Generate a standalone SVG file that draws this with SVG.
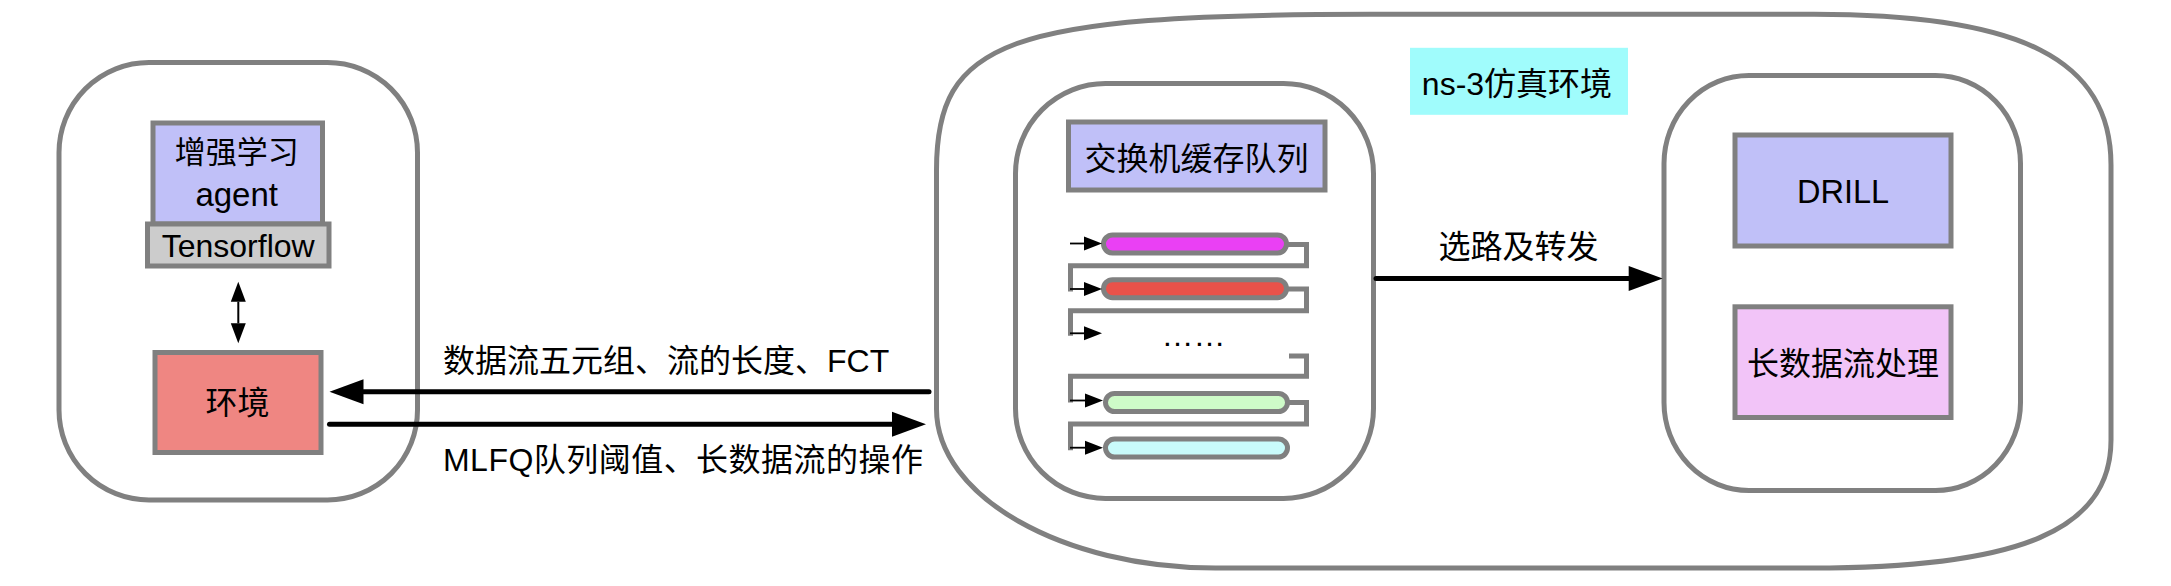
<svg xmlns="http://www.w3.org/2000/svg" width="2171" height="586" viewBox="0 0 2171 586">
  <style>
    .cont { fill: #ffffff; stroke: #808080; stroke-width: 5; }
    .box { stroke: #808080; stroke-width: 5; }
    .lav { fill: #c0c0f8; }
    .t { font-family: "Liberation Sans", "Noto Sans CJK SC", sans-serif; font-size: 32px; fill: #000000; }
    .mid { text-anchor: middle; }
    .main { stroke: #000000; stroke-width: 5; fill: none; stroke-linecap: round; }
    .thin { stroke: #000000; stroke-width: 1.8; fill: none; }
    .pipe { stroke: #808080; stroke-width: 5; fill: none; stroke-linejoin: miter; }
    .cap { stroke: #808080; stroke-width: 5; }
  </style>
  <defs>
    <marker id="bigHead" markerUnits="userSpaceOnUse" markerWidth="34" markerHeight="25" refX="0" refY="12.5" orient="auto" overflow="visible">
      <path d="M0,0 L34,12.5 L0,25 Z" fill="#000000"/>
    </marker>
    <marker id="midHead" markerUnits="userSpaceOnUse" markerWidth="20" markerHeight="15" refX="0" refY="7.5" orient="auto-start-reverse" overflow="visible">
      <path d="M0,0 L20,7.5 L0,15 Z" fill="#000000"/>
    </marker>
    <marker id="smallHead" markerUnits="userSpaceOnUse" markerWidth="18" markerHeight="14" refX="0" refY="7" orient="auto" overflow="visible">
      <path d="M0,0 L18,7 L0,14 Z" fill="#000000"/>
    </marker>
  </defs>
  <rect width="2171" height="586" fill="#ffffff"/>

  <!-- Left container: RL side -->
  <g id="rl-container">
    <rect class="cont" x="59" y="62.5" width="358.5" height="437.5" rx="90" ry="90"/>
  </g>
  <g id="agent">
    <rect class="box lav" x="153" y="123" width="169.5" height="101"/>
    <text class="t mid" x="236.7" y="163" style="font-size:31px">增强学习</text>
    <text class="t mid" x="236.7" y="206" style="font-size:33px">agent</text>
  </g>
  <g id="tensorflow">
    <rect class="box" fill="#cccccc" x="147.5" y="224" width="181.5" height="42"/>
    <text class="t mid" x="238.2" y="256.7">Tensorflow</text>
  </g>
  <g id="env">
    <rect class="box" fill="#ef8682" x="155" y="352.5" width="166" height="100"/>
    <text class="t mid" x="237.5" y="414">环境</text>
  </g>

  <!-- Right container: ns-3 -->
  <g id="ns3-container">
    <path class="cont" d="M1370,14.3 H1814 C2022,14.3 2111,59.6 2111,165 V440 C2111,529.6 2021,568 1811,568 H1215.5 C1062.5,568 936.5,496.4 936.5,409 V170 C936.5,41 1005,14.3 1370,14.3 Z"/>
  </g>
  <g id="ns3-label">
    <rect x="1410" y="47.8" width="218" height="67" fill="#a0fcfc"/>
    <text class="t mid" x="1517" y="95">ns-3仿真环境</text>
  </g>

  <g id="switch">
    <rect class="cont" x="1015.5" y="83.5" width="358" height="415" rx="90" ry="90"/>
    <rect class="box lav" x="1068.5" y="122" width="256.5" height="68"/>
    <text class="t mid" x="1196.5" y="170">交换机缓存队列</text>
    <g id="queues">
      <path class="pipe" d="M1286,244.5 H1306.5 V265.8 H1070.5 V291.5"/>
      <path class="pipe" d="M1286,289 H1306.5 V310.7 H1070.5 V335.8"/>
      <path class="pipe" d="M1289,356 H1306.5 V376.3 H1070.5 V402.5"/>
      <path class="pipe" d="M1288,402.5 H1306.5 V424 H1070.5 V450.2"/>
      <rect class="cap" fill="#ea40f4" x="1103.5" y="235" width="183" height="18" rx="9" ry="9"/>
      <rect class="cap" fill="#e9524a" x="1103.5" y="279.7" width="183" height="18" rx="9" ry="9"/>
      <rect class="cap" fill="#cefbc8" x="1105.5" y="393.5" width="182" height="18" rx="9" ry="9"/>
      <rect class="cap" fill="#c9fbfb" x="1105.5" y="439" width="182" height="18" rx="9" ry="9"/>
      <line class="thin" x1="1070" y1="243.5" x2="1084" y2="243.5" marker-end="url(#smallHead)"/>
      <line class="thin" x1="1070" y1="289" x2="1084" y2="289" marker-end="url(#smallHead)"/>
      <line class="thin" x1="1070" y1="333.3" x2="1084" y2="333.3" marker-end="url(#smallHead)"/>
      <line class="thin" x1="1070" y1="400.5" x2="1085" y2="400.5" marker-end="url(#smallHead)"/>
      <line class="thin" x1="1070" y1="447.7" x2="1085" y2="447.7" marker-end="url(#smallHead)"/>
      <text x="1161.4" y="346" style="font-family:'Liberation Sans', sans-serif; font-size:32px" fill="#000000">……</text>
    </g>
  </g>

  <g id="routing">
    <rect class="cont" x="1664" y="75.5" width="356.5" height="415" rx="85" ry="88"/>
  </g>
  <g id="drill">
    <rect class="box lav" x="1735" y="135" width="216" height="111"/>
    <text class="t mid" x="1843" y="203.3" style="font-size:32.5px">DRILL</text>
  </g>
  <g id="longflow">
    <rect class="box" fill="#f2c4f8" x="1735" y="306.8" width="216" height="110.7"/>
    <text class="t mid" x="1843" y="375">长数据流处理</text>
  </g>

  <!-- Connectors -->
  <g id="connectors">
    <line x1="238.3" y1="301.7" x2="238.3" y2="323.3" stroke="#000000" stroke-width="2" marker-start="url(#midHead)" marker-end="url(#midHead)"/>
    <line class="main" x1="929" y1="391.7" x2="363.5" y2="391.7" marker-end="url(#bigHead)"/>
    <line class="main" x1="329.5" y1="424.3" x2="892" y2="424.3" marker-end="url(#bigHead)"/>
    <line class="main" x1="1376" y1="278.4" x2="1628.7" y2="278.4" marker-end="url(#bigHead)"/>
    <text class="t" x="443" y="372">数据流五元组、流的长度、FCT</text>
    <text class="t" x="443" y="471" textLength="480" lengthAdjust="spacing">MLFQ队列阈值、长数据流的操作</text>
    <text class="t mid" x="1518.5" y="258">选路及转发</text>
  </g>
</svg>
